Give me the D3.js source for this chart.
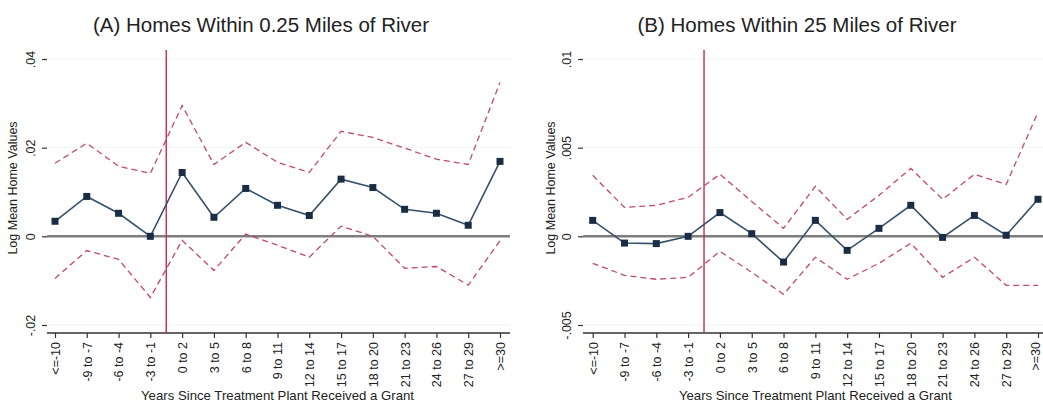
<!DOCTYPE html>
<html>
<head>
<meta charset="utf-8">
<script src="https://cdn.jsdelivr.net/npm/d3@7"></script>
<style>
  body { margin: 0; background: #fff; }
  text { font-family: "Liberation Sans", Arial, sans-serif; fill: #222; }
</style>
</head>
<body>
<div id="chart"></div>
<script>
// data

const categories = ["<=-10", "-9 to -7", "-6 to -4", "-3 to -1", "0 to 2", "3 to 5", "6 to 8",
  "9 to 11", "12 to 14", "15 to 17", "18 to 20", "21 to 23", "24 to 26", "27 to 29", ">=30"];

// panel A - within 0.25 miles
const estA = [0.0034, 0.009, 0.0052, 0.0, 0.0144, 0.0043, 0.0108, 0.007, 0.0047, 0.0129, 0.011, 0.0061, 0.0052, 0.0025, 0.0169];
const upperA = [0.0165, 0.021, 0.0158, 0.0142, 0.0295, 0.0162, 0.0212, 0.0167, 0.0144, 0.0237, 0.0223, 0.0199, 0.0174, 0.0162, 0.0347];
const lowerA = [-0.0095, -0.0032, -0.0052, -0.0138, -0.0009, -0.0077, 0.0005, -0.002, -0.0047, 0.0023, 0.0, -0.0072, -0.0068, -0.011, -0.001];
const ticksA = [-0.02, 0, 0.02, 0.04];
const tickLabelsA = ["-.02", "0", ".02", ".04"];

// panel B - within 25 miles
const estB = [0.0009, -0.00038, -0.00041, 0.0, 0.00134, 0.00015, -0.00145, 0.0009, -0.00079, 0.00045, 0.00175, -0.00006, 0.00118, 0.00006, 0.00209];
const upperB = [0.00344, 0.00163, 0.00175, 0.0022, 0.0035, 0.00197, 0.00045, 0.00282, 0.00096, 0.00231, 0.00383, 0.00209, 0.0035, 0.00293, 0.00699];
const lowerB = [-0.00152, -0.0022, -0.00242, -0.00231, -0.00085, -0.00203, -0.00327, -0.00118, -0.00242, -0.00152, -0.00039, -0.00231, -0.00118, -0.00276, -0.00276];
const ticksB = [-0.005, 0, 0.005, 0.01];
const tickLabelsB = ["-.005", "0", ".005", ".01"];

const width = 1043;
const height = 403;

const svg = d3.select("#chart")
  .append("svg")
  .attr("width", width)
  .attr("height", height);

function drawPanel(p) {
  const plotTop = 59;
  const plotBottom = 325;
  const axisY = 333;

  const xScale = d3.scalePoint()
    .domain(categories)
    .range([p.x0, p.x1]);

  const yScale = d3.scaleLinear()
    .domain([p.ticks[0], p.ticks[p.ticks.length - 1]])
    .range([plotBottom, plotTop]);

  const g = svg.append("g");

  // faint grid
  g.append("g")
    .selectAll("line")
    .data(p.ticks.filter((t) => t !== 0))
    .join("line")
    .attr("x1", p.left)
    .attr("x2", p.right)
    .attr("y1", (d) => yScale(d))
    .attr("y2", (d) => yScale(d))
    .attr("stroke", "#f0f2f4")
    .attr("stroke-width", 1);

  // y axis, ticks only
  const yAxis = d3.axisLeft(yScale)
    .tickValues(p.ticks)
    .tickFormat((d, i) => p.tickLabels[i])
    .tickSizeInner(5)
    .tickSizeOuter(0);

  const ya = g.append("g")
    .attr("transform", `translate(${p.left}, 0)`)
    .call(yAxis);
  ya.select(".domain").remove();
  ya.selectAll(".tick line").attr("stroke", "#333").attr("stroke-width", 1.2);
  ya.selectAll(".tick text")
    .attr("x", null)
    .attr("dy", null)
    .attr("text-anchor", "middle")
    .attr("transform", "translate(-12, 0) rotate(-90)")
    .style("font-size", "12.5px");

  // x axis
  const xAxis = d3.axisBottom(xScale)
    .tickSizeInner(5)
    .tickSizeOuter(0);

  const xa = g.append("g")
    .attr("transform", `translate(0, ${axisY})`)
    .call(xAxis);
  xa.select(".domain")
    .attr("d", `M${p.left},0H${p.right}`)
    .attr("stroke", "#333")
    .attr("stroke-width", 1.3);
  xa.selectAll(".tick line").attr("stroke", "#333").attr("stroke-width", 1.2);
  xa.selectAll(".tick text")
    .attr("transform", "rotate(-90)")
    .attr("text-anchor", "end")
    .attr("x", -9)
    .attr("y", 0)
    .attr("dy", "0.35em")
    .style("font-size", "12.5px");
  // last label sits on the page edge, pull it in a touch
  if (p.nudgeLast) {
    xa.selectAll(".tick text")
      .filter((d) => d === categories[categories.length - 1])
      .attr("dy", "0.1em");
  }

  // axis titles
  g.append("text")
    .attr("transform", `translate(${p.yTitleX}, ${(plotTop + plotBottom) / 2 - 4}) rotate(-90)`)
    .attr("text-anchor", "middle")
    .style("font-size", "12.5px")
    .text("Log Mean Home Values");

  g.append("text")
    .attr("x", (p.x0 + p.x1) / 2)
    .attr("y", 400)
    .attr("text-anchor", "middle")
    .style("font-size", "13.2px")
    .text("Years Since Treatment Plant Received a Grant");

  g.append("text")
    .attr("x", p.titleX)
    .attr("y", 32)
    .attr("text-anchor", "middle")
    .style("font-size", "20.5px")
    .text(p.title);

  // zero line
  g.append("line")
    .attr("x1", p.left)
    .attr("x2", p.right)
    .attr("y1", yScale(0))
    .attr("y2", yScale(0))
    .attr("stroke", "#7d7d7d")
    .attr("stroke-width", 2.5);

  // treatment line between -3 to -1 and 0 to 2
  const vx = (xScale(categories[3]) + xScale(categories[4])) / 2;
  g.append("line")
    .attr("x1", vx)
    .attr("x2", vx)
    .attr("y1", 50)
    .attr("y2", axisY)
    .attr("stroke", "#c8284f")
    .attr("stroke-width", 1.4);

  const line = d3.line()
    .x((d, i) => xScale(categories[i]))
    .y((d) => yScale(d));

  // confidence bands
  [p.upper, p.lower].forEach((series) => {
    g.append("path")
      .datum(series)
      .attr("d", line)
      .attr("fill", "none")
      .attr("stroke", "#c24a66")
      .attr("stroke-width", 1.3)
      .attr("stroke-dasharray", "6,4");
  });

  // estimate
  g.append("path")
    .datum(p.est)
    .attr("d", line)
    .attr("fill", "none")
    .attr("stroke", "#34506a")
    .attr("stroke-width", 1.6);

  g.append("g")
    .selectAll("rect")
    .data(p.est)
    .join("rect")
    .attr("x", (d, i) => xScale(categories[i]) - 3.5)
    .attr("y", (d) => yScale(d) - 3.5)
    .attr("width", 7)
    .attr("height", 7)
    .attr("fill", "#1b2d45");
}

drawPanel({
  title: "(A) Homes Within 0.25 Miles of River",
  titleX: 261,
  est: estA, upper: upperA, lower: lowerA,
  ticks: ticksA, tickLabels: tickLabelsA,
  left: 47, right: 510,
  x0: 55, x1: 500,
  yTitleX: 17
});

drawPanel({
  title: "(B) Homes Within 25 Miles of River",
  titleX: 797,
  est: estB, upper: upperB, lower: lowerB,
  ticks: ticksB, tickLabels: tickLabelsB,
  left: 583, right: 1043,
  x0: 592.7, x1: 1038,
  yTitleX: 555,
  nudgeLast: true
});
</script>
</body>
</html>
